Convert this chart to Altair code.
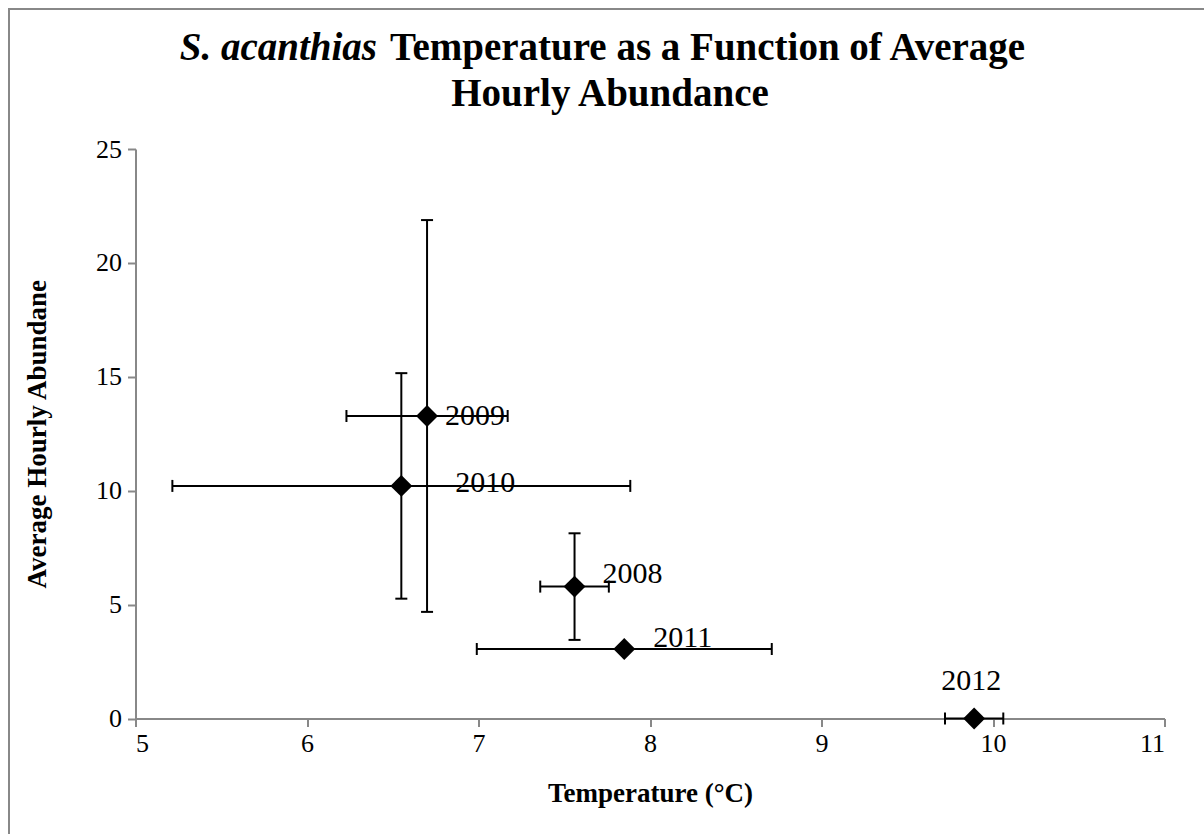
import altair as alt
import pandas as pd

# ---- data ----
years = ["2008", "2009", "2010", "2011", "2012"]
temperature = [7.56, 6.70, 6.55, 7.85, 9.89]
temperature_err = [0.20, 0.47, 1.335, 0.86, 0.17]
abundance = [5.79, 13.28, 10.21, 3.05, 0.0]
abundance_err = [2.34, 8.60, 4.95, 0.0, 0.0]

x_ticks = [5, 6, 7, 8, 9, 10, 11]
y_ticks = [0, 5, 10, 15, 20, 25]

df = pd.DataFrame({
    "year": years,
    "temp": temperature,
    "temp_err": temperature_err,
    "ab": abundance,
    "ab_err": abundance_err,
})
df["t_lo"] = df["temp"] - df["temp_err"]
df["t_hi"] = df["temp"] + df["temp_err"]
df["a_lo"] = df["ab"] - df["ab_err"]
df["a_hi"] = df["ab"] + df["ab_err"]

W, H = 1029, 569.5
PL, PT = 135.5, 149
FONT = "Liberation Serif"

xs = alt.Scale(domain=[5, 11], nice=False, zero=False)
ys = alt.Scale(domain=[0, 25], nice=False)

X = alt.X("temp:Q", scale=xs, axis=alt.Axis(values=x_ticks, format="d", title="Temperature (°C)"))
Y = alt.Y("ab:Q", scale=ys, axis=alt.Axis(values=y_ticks, format="d", title="Average Hourly Abundane"))

base = alt.Chart(df)

# vertical error bars
yerr = base.transform_filter("datum.ab_err > 0")
v_rule = yerr.mark_rule(color="black", strokeWidth=2).encode(
    x=X, y=alt.Y("a_lo:Q", scale=ys), y2="a_hi:Q")
v_cap_lo = yerr.mark_tick(color="black", orient="horizontal", size=12, thickness=2, opacity=1).encode(
    x=X, y=alt.Y("a_lo:Q", scale=ys))
v_cap_hi = yerr.mark_tick(color="black", orient="horizontal", size=12, thickness=2, opacity=1).encode(
    x=X, y=alt.Y("a_hi:Q", scale=ys))

# horizontal error bars
h_rule = base.mark_rule(color="black", strokeWidth=2).encode(
    x=alt.X("t_lo:Q", scale=xs), x2="t_hi:Q", y=Y)
h_cap_lo = base.mark_tick(color="black", orient="vertical", size=12, thickness=2, opacity=1).encode(
    x=alt.X("t_lo:Q", scale=xs), y=Y)
h_cap_hi = base.mark_tick(color="black", orient="vertical", size=12, thickness=2, opacity=1).encode(
    x=alt.X("t_hi:Q", scale=xs), y=Y)

points = base.mark_point(shape="diamond", filled=True, size=480, color="black", opacity=1).encode(x=X, y=Y)

# data labels, each nudged as in the reference
label_offsets = {
    "2008": dict(dx=28, dy=-13, align="left"),
    "2009": dict(dx=18, dy=0, align="left"),
    "2010": dict(dx=54, dy=-3, align="left"),
    "2011": dict(dx=29, dy=-11, align="left"),
    "2012": dict(dx=-3, dy=-38, align="center"),
}
labels = []
for yr, o in label_offsets.items():
    labels.append(
        base.transform_filter(f"datum.year == '{yr}'").mark_text(
            font=FONT, fontSize=30, color="black", baseline="middle", **o
        ).encode(x=X, y=Y, text="year:N")
    )

one = alt.Data(values=[{"k": 0}])
# outer frame
frame = alt.Chart(one).mark_rect(fillOpacity=0, stroke="#888888", strokeWidth=2).encode(
    x=alt.value(9 - PL), x2=alt.value(1214 - PL), y=alt.value(9 - PT), y2=alt.value(844 - PT))

# title (mixed italic / bold)
t_italic = alt.Chart(one).mark_text(
    font=FONT, fontSize=39, fontWeight="bold", fontStyle="italic", align="right", baseline="alphabetic"
).encode(x=alt.value(377 - PL), y=alt.value(60 - PT), text=alt.value("S. acanthias"))
t_bold1 = alt.Chart(one).mark_text(
    font=FONT, fontSize=39, fontWeight="bold", align="left", baseline="alphabetic"
).encode(x=alt.value(390 - PL), y=alt.value(60 - PT), text=alt.value("Temperature as a Function of Average"))
t_bold2 = alt.Chart(one).mark_text(
    font=FONT, fontSize=39, fontWeight="bold", align="center", baseline="alphabetic"
).encode(x=alt.value(610 - PL), y=alt.value(106 - PT), text=alt.value("Hourly Abundance"))

chart = alt.layer(
    frame, h_rule, v_rule, h_cap_lo, h_cap_hi, v_cap_lo, v_cap_hi, points, *labels,
    t_italic, t_bold1, t_bold2
).properties(
    width=W, height=H,
    autosize=alt.AutoSizeParams(type="none"),
    padding={"left": PL, "top": PT, "right": 1204 - PL - W, "bottom": 834 - PT - H},
    background="white",
).configure_view(stroke=None).configure_axis(
    grid=False,
    domainColor="#888888", domainWidth=2,
    tickColor="#888888", tickWidth=2, tickSize=8,
    labelFont=FONT, labelFontSize=26, labelColor="black",
    titleFont=FONT, titleFontSize=27, titleFontWeight="bold", titleColor="black",
).configure_axisX(labelPadding=4, titlePadding=24).configure_axisY(labelPadding=6, titlePadding=44)

chart.save("out.html", embed_options={"renderer": "svg", "actions": False})
